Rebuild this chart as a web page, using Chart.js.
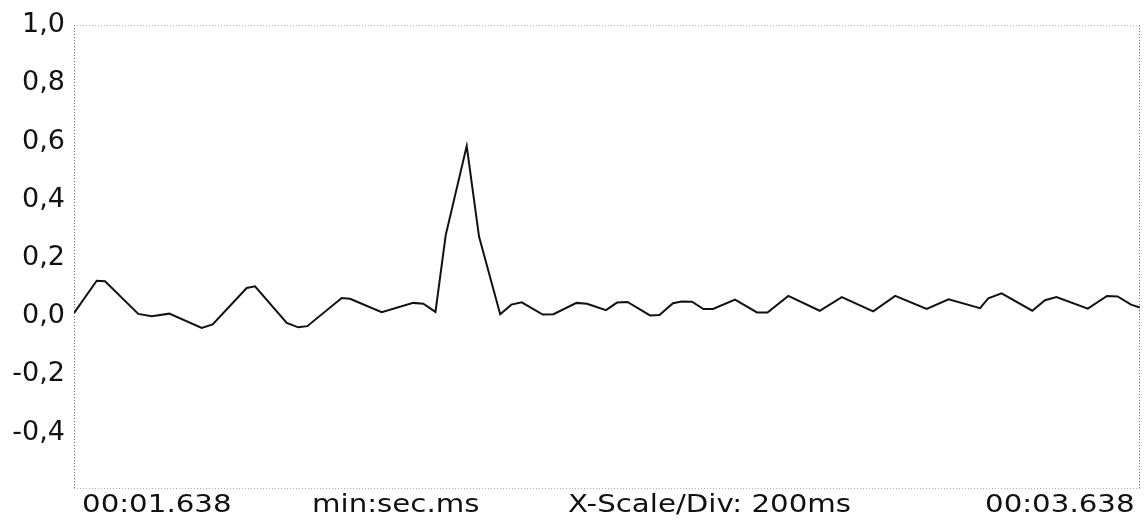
<!DOCTYPE html>
<html><head><meta charset="utf-8">
<script src="https://cdn.jsdelivr.net/npm/chart.js@4/dist/chart.umd.min.js"></script>
<style>html,body{margin:0;padding:0;background:#fff}#wrap{position:relative;width:1145px;height:523px}</style>
</head><body><div id="wrap"><canvas id="c" width="1145" height="523"></canvas></div>
<script>
// time of each sample (s)
const times = [1.638,1.6806,1.6962,1.7586,1.7838,1.8168,1.8776,1.8982,1.9620,1.9776,2.0371,2.0588,2.0757,2.1403,2.1558,2.2153,2.2746,2.2934,2.3162,2.3354,2.3748,2.3979,2.4376,2.4586,2.4780,2.5174,2.5376,2.5808,2.6005,2.6361,2.6568,2.6765,2.7187,2.7365,2.7618,2.7782,2.7975,2.8189,2.8369,2.8782,2.9194,2.9391,2.9782,3.0371,3.0785,3.1374,3.1787,3.2378,3.2789,3.3380,3.3534,3.3783,3.4359,3.4598,3.4812,3.5401,3.5761,3.5960,3.6211,3.638];
// signal value at each sample
const values = [0.011,0.122,0.120,0.008,0.000,0.009,-0.040,-0.028,0.097,0.103,-0.023,-0.038,-0.034,0.063,0.060,0.014,0.046,0.043,0.015,0.279,0.585,0.274,0.007,0.040,0.048,0.006,0.007,0.046,0.043,0.021,0.047,0.049,0.003,0.004,0.045,0.051,0.050,0.025,0.025,0.057,0.013,0.013,0.070,0.019,0.066,0.017,0.070,0.025,0.058,0.028,0.062,0.079,0.019,0.055,0.066,0.026,0.070,0.068,0.040,0.030];
const yTickValues = [1.0,0.8,0.6,0.4,0.2,0.0,-0.2,-0.4];
const yTickLabels = ['1,0','0,8','0,6','0,4','0,2','0,0','-0,2','-0,4'];
const xRange = [1.638, 3.638];
const yRange = [-0.59, 1.0];
const bottomLabels = ['00:01.638','min:sec.ms','X-Scale/Div: 200ms','00:03.638'];

const points = times.map((t,i)=>({x:t,y:values[i]}));

const framePlugin = {
  id:'frame',
  afterDraw(chart){
    const {ctx, chartArea:a} = chart;
    ctx.save();
    ctx.lineWidth = 1;
    ctx.setLineDash([1,2]);
    ctx.strokeStyle = '#b0b0b0';
    ctx.beginPath();
    ctx.moveTo(a.left, a.top+0.5); ctx.lineTo(a.right, a.top+0.5);
    ctx.moveTo(a.left, a.bottom+0.5); ctx.lineTo(a.right, a.bottom+0.5);
    ctx.stroke();
    ctx.strokeStyle = '#555';
    ctx.beginPath();
    ctx.moveTo(a.left+0.5, a.top); ctx.lineTo(a.left+0.5, a.bottom);
    ctx.moveTo(a.right-0.5, a.top); ctx.lineTo(a.right-0.5, a.bottom);
    ctx.stroke();
    ctx.setLineDash([]);
    // bottom captions
    ctx.fillStyle = '#111';
    ctx.font = '24px "DejaVu Sans"';
    ctx.textBaseline = 'alphabetic';
    const xs = [a.left+8, 312, 568, a.right-155];
    bottomLabels.forEach((txt,i)=>{
      ctx.save();
      ctx.translate(xs[i], 512);
      ctx.scale(1.22,1);
      ctx.fillText(txt,0,0);
      ctx.restore();
    });
    ctx.restore();
  }
};

new Chart(document.getElementById('c'), {
  type:'line',
  data:{datasets:[{data:points,borderColor:'#111',borderWidth:2,pointRadius:0,tension:0,fill:false}]},
  options:{
    responsive:false, animation:false, devicePixelRatio:1,
    layout:{padding:{top:23,right:5,bottom:35,left:0}},
    plugins:{legend:{display:false},tooltip:{enabled:false}},
    scales:{
      x:{type:'linear',min:xRange[0],max:xRange[1],display:false},
      y:{min:yRange[0],max:yRange[1],
         afterBuildTicks(s){ s.ticks = yTickValues.map(v=>({value:v})); },
         afterFit(s){ s.width = 74; },
         grid:{display:false,drawTicks:false},
         border:{display:false},
         ticks:{padding:9,color:'#111',font:{family:'DejaVu Sans',size:27},
           callback(v){ const i = yTickValues.findIndex(t=>Math.abs(t-v)<1e-9); return i>=0?yTickLabels[i]:''; }}
      }
    }
  },
  plugins:[framePlugin]
});
</script></body></html>
